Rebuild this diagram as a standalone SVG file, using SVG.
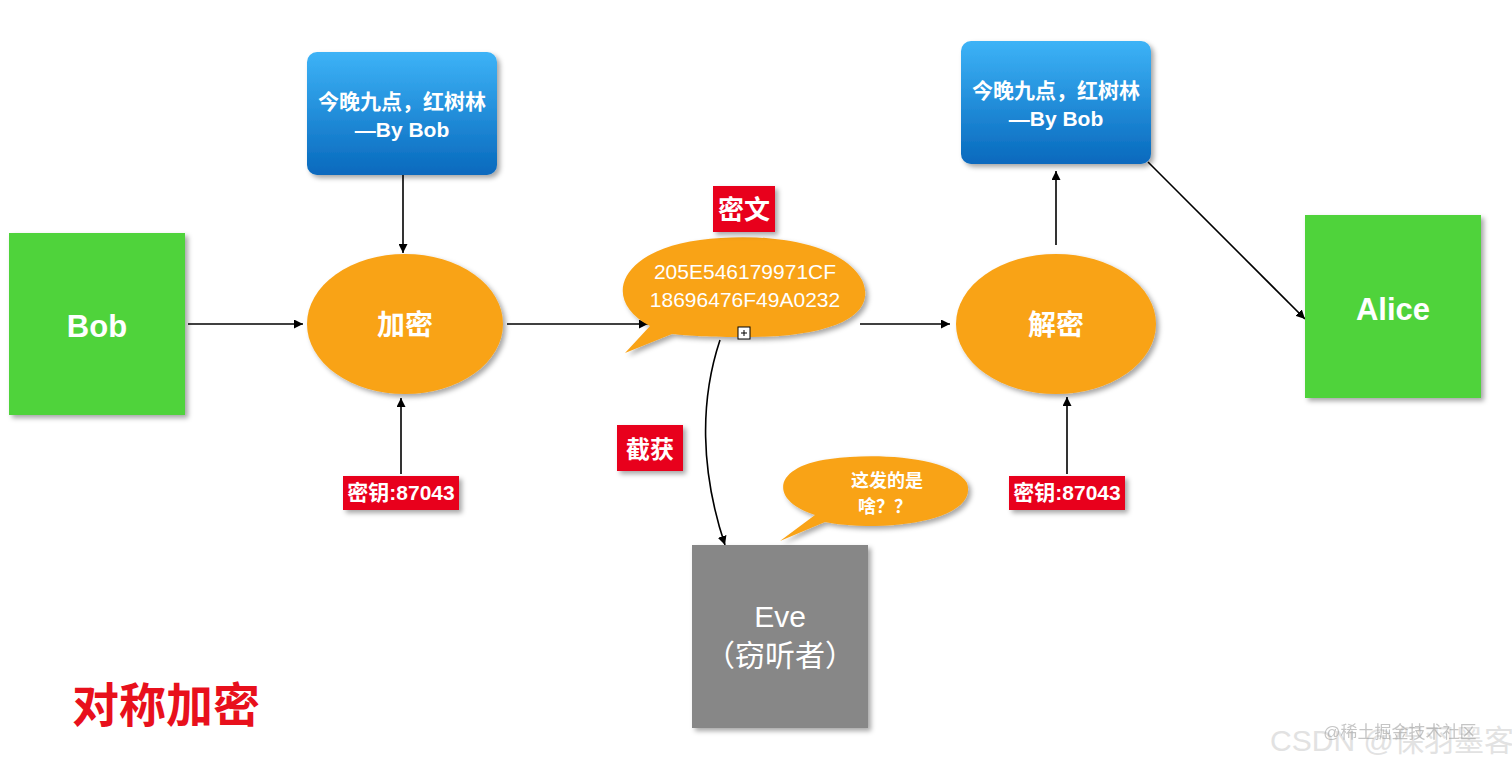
<svg xmlns="http://www.w3.org/2000/svg" width="1512" height="766" viewBox="0 0 1512 766">
<defs>
<linearGradient id="blue" x1="0" y1="0" x2="0" y2="1">
<stop offset="0" stop-color="#3db3f7"/>
<stop offset="1" stop-color="#0869bd"/>
</linearGradient>
<filter id="sh" x="-20%" y="-20%" width="150%" height="150%">
<feDropShadow dx="3" dy="3" stdDeviation="2.5" flood-color="#000" flood-opacity="0.35"/>
</filter>
<marker id="arr" viewBox="0 0 10 10" refX="10" refY="5" markerWidth="9" markerHeight="9" markerUnits="userSpaceOnUse" orient="auto">
<path d="M0,0 L10,5 L0,10 z" fill="#000"/>
</marker>
<style>
text{font-family:"Liberation Sans","Noto Sans CJK SC",sans-serif;fill:#fff;text-anchor:middle;font-weight:bold}
.n{font-weight:normal}
.green{fill:#4fd33a}
.orange{fill:#f9a318}
.red{fill:#e8001c}
.conn{stroke:#000;stroke-width:1.6;fill:none;marker-end:url(#arr)}
</style>
</defs>
<rect width="1512" height="766" fill="#fff"/>

<g id="connectors">
<line class="conn" x1="188" y1="324" x2="303" y2="324"/>
<line class="conn" x1="403" y1="175" x2="403" y2="253"/>
<line class="conn" x1="401" y1="474" x2="401" y2="398"/>
<line class="conn" x1="507" y1="324" x2="648" y2="324"/>
<line class="conn" x1="860" y1="324" x2="950" y2="324"/>
<line class="conn" x1="1056" y1="245" x2="1056" y2="171"/>
<line class="conn" x1="1148" y1="162" x2="1305" y2="319"/>
<line class="conn" x1="1067" y1="474" x2="1067" y2="397"/>
<path class="conn" d="M720,340 C700,400 700,470 725,545"/>
</g>

<g id="bob">
<rect x="9" y="233" width="176" height="182" class="green" filter="url(#sh)"/>
<text x="97" y="337" font-size="31">Bob</text>
</g>

<g id="msg1">
<rect x="307" y="52" width="190" height="123" rx="10" fill="url(#blue)" filter="url(#sh)"/>
<text x="402" y="109" font-size="21">今晚九点，红树林</text>
<text x="402" y="137" font-size="21">—By Bob</text>
</g>

<g id="encrypt">
<ellipse cx="405" cy="324" rx="98" ry="70" class="orange" filter="url(#sh)"/>
<text x="405" y="335" font-size="28">加密</text>
</g>

<g id="key1">
<rect x="343" y="476" width="116" height="34" class="red" filter="url(#sh)"/>
<text x="401" y="500" font-size="21">密钥:87043</text>
</g>

<g id="cipher">
<path d="M650,326 C600,300 620,250 700,240 C760,232 840,240 862,280 C880,320 820,338 745,337 C710,337 690,336 672,334 L625,353 Z" class="orange" filter="url(#sh)"/>
<text x="745" y="279" font-size="21" class="n">205E546179971CF</text>
<text x="745" y="307" font-size="21" class="n">18696476F49A0232</text>
<rect x="738" y="327" width="12" height="12" fill="#fff" stroke="#000" stroke-width="1"/>
<path d="M741,333 H747 M744,330 V336" stroke="#000" stroke-width="1"/>
</g>

<g id="cipher-label">
<rect x="713" y="186" width="62" height="46" class="red" filter="url(#sh)"/>
<text x="744" y="219" font-size="26">密文</text>
</g>

<g id="decrypt">
<ellipse cx="1056" cy="324" rx="100" ry="70" class="orange" filter="url(#sh)"/>
<text x="1056" y="335" font-size="28">解密</text>
</g>

<g id="msg2">
<rect x="961" y="41" width="190" height="123" rx="10" fill="url(#blue)" filter="url(#sh)"/>
<text x="1056" y="98" font-size="21">今晚九点，红树林</text>
<text x="1056" y="126" font-size="21">—By Bob</text>
</g>

<g id="alice">
<rect x="1305" y="215" width="176" height="183" class="green" filter="url(#sh)"/>
<text x="1393" y="320" font-size="31">Alice</text>
</g>

<g id="key2">
<rect x="1009" y="476" width="116" height="34" class="red" filter="url(#sh)"/>
<text x="1067" y="500" font-size="21">密钥:87043</text>
</g>

<g id="intercept">
<rect x="617" y="425" width="66" height="46" class="red" filter="url(#sh)"/>
<text x="650" y="458" font-size="24">截获</text>
</g>

<g id="eve">
<rect x="692" y="545" width="176" height="183" fill="#878787" filter="url(#sh)"/>
<text x="780" y="627" font-size="30" class="n">Eve</text>
<text x="780" y="666" font-size="30" class="n">（窃听者）</text>
</g>

<g id="eve-bubble">
<path d="M815,515 C768,500 773,466 830,459 C880,452 952,458 967,483 C976,510 930,525 875,526 C850,526 835,524 825,522 L780,541 Z" class="orange" filter="url(#sh)"/>
<text x="887" y="487" font-size="18">这发的是</text>
<text x="858" y="513" font-size="18" style="text-anchor:start">啥？？</text>
</g>

<g id="title">
<text x="166" y="722" font-size="47" style="fill:#e8101c">对称加密</text>
</g>

<g id="watermark">
<text x="1392" y="751" font-size="30" class="n" style="fill:#e2e2e2">CSDN @保羽墨客</text>
<text x="1400" y="738" font-size="17" class="n" style="fill:#a0a0a0;opacity:0.6">@稀土掘金技术社区</text>
</g>
</svg>
